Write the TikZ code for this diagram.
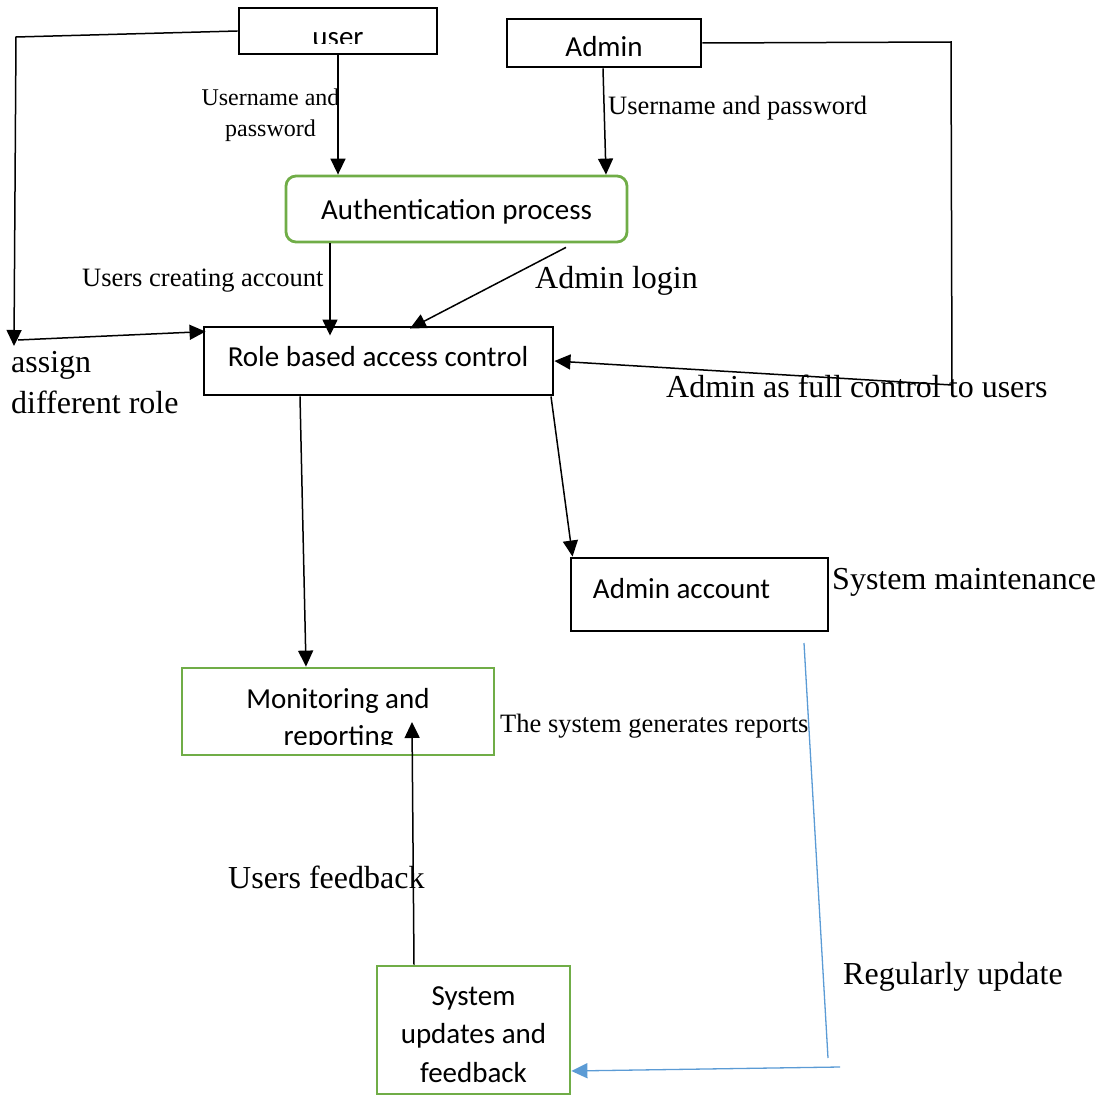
\documentclass[tikz,border=0pt]{standalone}
\usepackage{fontspec}
\setmainfont{Liberation Serif}
\newfontfamily\calibri{Carlito}
\usetikzlibrary{arrows.meta}
\definecolor{boxgreen}{RGB}{112,173,71}
\definecolor{lineblue}{RGB}{91,155,213}
\tikzset{
 blackbox/.style={draw=black, line width=2.9pt, fill=white, inner sep=0pt},
 greenbox/.style={draw=boxgreen, line width=2.8pt, fill=white, inner sep=0pt},
 boxtext/.style={inner sep=0pt, anchor=base, font=\calibri\fontsize{29}{35}\selectfont},
 biglabel/.style={inner sep=0pt, anchor=base west, font=\fontsize{32}{38}\selectfont},
 smalllabel/.style={inner sep=0pt, anchor=base west, font=\fontsize{26.5}{32}\selectfont},
 tinylabel/.style={inner sep=0pt, anchor=base, font=\fontsize{24}{29}\selectfont},
 conn/.style={draw=black, line width=1.5pt, -{Triangle[length=16pt,width=15pt]}},
 blueline/.style={draw=lineblue, line width=1.3pt},
}
\begin{document}
\begin{tikzpicture}[x=1pt,y=-1pt]
\useasboundingbox (0,0) rectangle (1101,1097);
% boxes
\node[blackbox, minimum width=198pt, minimum height=46pt] (user) at (338,31) {};
\node[blackbox, minimum width=194pt, minimum height=48pt] (admin) at (604,43) {};
\node[greenbox, rounded corners=10pt, minimum width=341pt, minimum height=66pt] (auth) at (456.5,209) {};
\node[blackbox, minimum width=349pt, minimum height=68pt] (rbac) at (378.5,361) {};
\node[blackbox, minimum width=257pt, minimum height=73pt] (adminacc) at (699.5,594.5) {};
\node[greenbox, minimum width=312pt, minimum height=87pt] (monitor) at (338,711.5) {};
\node[greenbox, minimum width=193pt, minimum height=128pt] (sysupd) at (473.5,1030) {};
% box texts
\begin{scope}
\clip (239,8) rectangle (437,44);
\node[boxtext] (usertext) at (338,46.5) {user};
\end{scope}
\node[boxtext] (admintext) at (604,57) {Admin};
\node[boxtext] (authtext) at (456.5,219) {Authentication process};
\node[boxtext] (rbactext) at (378,366) {Role based access control};
\node[boxtext] (adminacctext) at (681.5,598) {Admin account};
\node[boxtext] (montext1) at (338,708) {Monitoring and};
\begin{scope}
\clip (182,668) rectangle (494,744);
\node[boxtext] (montext2) at (338.5,745) {reporting};
\end{scope}
\node[boxtext] (systext1) at (473.5,1005) {System};
\node[boxtext] (systext2) at (473.5,1043) {updates and};
\node[boxtext] (systext3) at (473.5,1082) {feedback};
% labels
\node[tinylabel] (lbl1a) at (270.5,106) {Username and};
\node[tinylabel] (lbl1b) at (270.5,137) {password};
\node[smalllabel] (lbl2) at (608,115) {Username and password};
\node[smalllabel] (lbl3) at (82,286) {Users creating account};
\node[biglabel] (lbl4) at (535,288) {Admin login};
\node[biglabel] (lbl5a) at (11,372) {assign};
\node[biglabel] (lbl5b) at (11,413) {different role};
\node[biglabel] (lbl6) at (666,397) {Admin as full control to users};
\node[biglabel] (lbl7) at (832,589) {System maintenance};
\node[smalllabel] (lbl8) at (500,732) {The system generates reports};
\node[biglabel] (lbl9) at (228,888) {Users feedback};
\node[biglabel] (lbl10) at (843,984) {Regularly update};
% free coordinates
\coordinate (uL1) at (16,37);
\coordinate (uL2) at (14,346);
\coordinate (aStart) at (18,340);
\coordinate (adR1) at (951,42);
\coordinate (adR2) at (952,385);
\coordinate (bl1) at (804,643);
\coordinate (bl2) at (828,1058);
\coordinate (bl3) at (840,1067);
% connectors
\draw[conn] (user.west) -- (uL1) -- (uL2);
\draw[conn] (aStart) -- ([shift={(3,6)}]rbac.north west);
\draw[conn] (user.south) -- (user.south |- auth.north);
\draw[conn] ([xshift=-1pt]admin.south) -- ([xshift=149.5pt]auth.north);
\draw[conn] (admin.east) -- (adR1) -- (adR2) -- (rbac.east);
\draw[conn] ([xshift=-126.5pt]auth.south) -- ([shift={(-48.5,10)}]rbac.north);
\draw[conn] ([shift={(109.5,4)}]auth.south) -- ([shift={(31.5,3)}]rbac.north);
\draw[conn] ([xshift=-78.5pt]rbac.south) -- ([xshift=-32pt]monitor.north);
\draw[conn] ([xshift=172.5pt]rbac.south) -- ([xshift=3pt]adminacc.north west);
\draw[blueline] (bl1) -- (bl2);
\draw[blueline, -{Triangle[length=16pt,width=15pt]}] (bl3) -- ([yshift=-41pt]sysupd.east);
\draw[conn] ([xshift=-59.5pt]sysupd.north) -- ([shift={(74,10.5)}]monitor.center);
\end{tikzpicture}
\end{document}
